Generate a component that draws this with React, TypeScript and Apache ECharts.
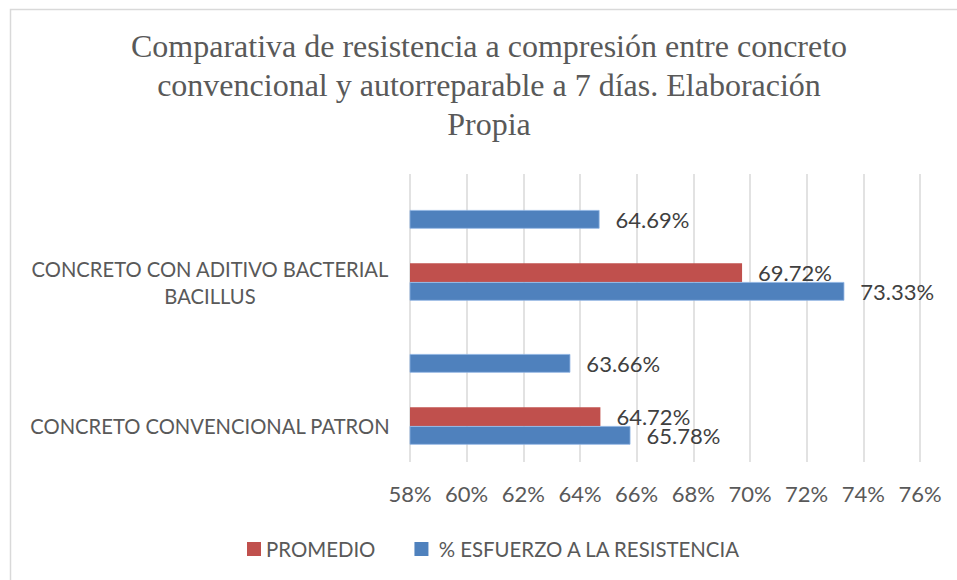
import React, { useEffect, useRef } from "react";
import * as echarts from "echarts";

const titleText =
  "Comparativa de resistencia a compresión entre concreto\nconvencional y autorreparable a 7 días. Elaboración\nPropia";

const categories = [
  "CONCRETO CONVENCIONAL PATRON",
  " ",
  "CONCRETO CON ADITIVO BACTERIAL\nBACILLUS",
  "  ",
];

const seriesNames = ["PROMEDIO", " % ESFUERZO A LA RESISTENCIA"];
const promedio: (number | null)[] = [64.72, null, 69.72, null];
const esfuerzo: number[] = [65.78, 63.66, 73.33, 64.69];

const axisMin = 58;
const axisMax = 76;
const axisStep = 2;

const RED = "#C0504D";
const BLUE = "#4F81BD";
const SANS = "Lato";

export default function App() {
  const ref = useRef<HTMLDivElement>(null);

  useEffect(() => {
    document.body.style.margin = "0";
    if (!ref.current) return;
    const chart = echarts.init(ref.current, undefined, { renderer: "svg" });

    const barLabel = {
      show: true,
      position: "right" as const,
      distance: 16,
      color: "#404040",
      fontFamily: SANS,
      fontSize: 22,
      formatter: (p: any) => (p.value == null ? "" : Number(p.value).toFixed(2) + "%"),
    };

    chart.setOption({
      animation: false,
      backgroundColor: "#ffffff",
      title: {
        text: titleText,
        left: 484,
        top: 21,
        textAlign: "center",
        textStyle: {
          fontFamily: "Liberation Serif",
          fontWeight: "normal",
          fontSize: 32,
          lineHeight: 39,
          color: "#595959",
        },
      },
      graphic: [
        {
          type: "rect",
          shape: { x: 10.5, y: 9.5, width: 980, height: 600 },
          style: { fill: "none", stroke: "#D9D9D9", lineWidth: 1.5 },
          silent: true,
        },
      ],
      legend: {
        left: 242,
        top: 534,
        itemWidth: 14,
        itemHeight: 14,
        itemGap: 39,
        icon: "rect",
        data: seriesNames,
        itemStyle: { borderWidth: 0 },
        textStyle: { fontFamily: SANS, fontSize: 20.4, color: "#595959" },
      },
      grid: { left: 410, right: 37, top: 174, bottom: 118, containLabel: false },
      xAxis: {
        type: "value",
        min: axisMin,
        max: axisMax,
        interval: axisStep,
        axisLine: { show: false },
        axisTick: { show: false },
        splitLine: { show: true, lineStyle: { color: "#D9D9D9", width: 1.5 } },
        axisLabel: {
          margin: 20,
          fontFamily: SANS,
          fontSize: 22,
          color: "#595959",
          formatter: "{value}%",
        },
      },
      yAxis: {
        type: "category",
        data: categories,
        axisLine: { show: false },
        axisTick: { show: false },
        splitLine: { show: false },
        axisLabel: {
          margin: 15,
          formatter: (v: string) =>
            v.trim() === ""
              ? ""
              : v
                  .split("\n")
                  .map((line) => "{c|" + line + "}")
                  .join("\n"),
          rich: {
            c: {
              width: 370,
              align: "center",
              fontFamily: SANS,
              fontSize: 20.2,
              lineHeight: 27,
              color: "#595959",
            },
          },
        },
      },
      series: [
        {
          name: seriesNames[0],
          type: "bar",
          data: promedio,
          barWidth: 18.7,
          barGap: "0%",
          itemStyle: { color: RED },
          label: barLabel,
        },
        {
          name: seriesNames[1],
          type: "bar",
          data: esfuerzo,
          barWidth: 18.7,
          barGap: "0%",
          itemStyle: { color: BLUE, borderColor: "#8DB3E2", borderWidth: 0.8 },
          label: barLabel,
        },
      ],
    });

    return () => chart.dispose();
  }, []);

  return <div ref={ref} style={{ width: 957, height: 580 }} />;
}
